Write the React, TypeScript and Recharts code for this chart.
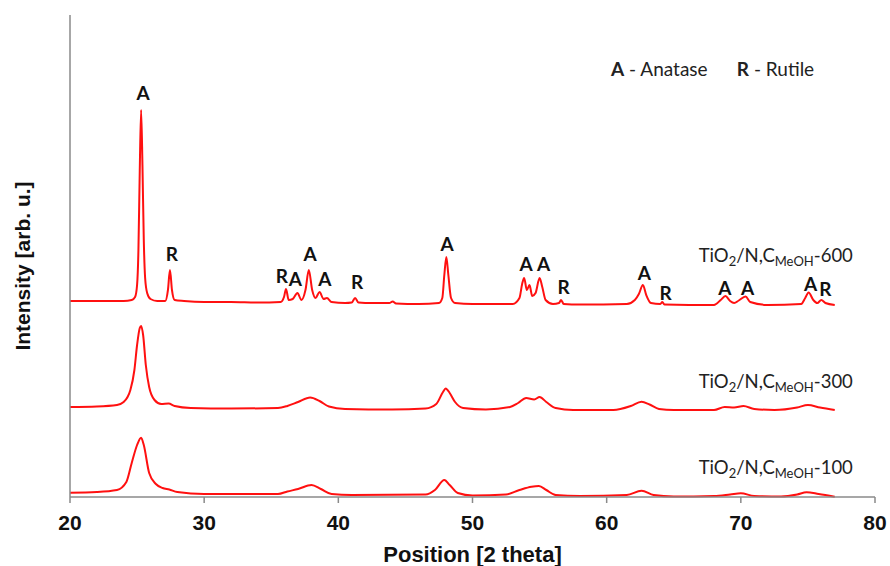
import { LineChart, Line, XAxis, YAxis, ReferenceDot } from 'recharts'

// 2 theta positions and intensities (arb. u.)
const theta600 = [20, 22, 24, 24.6, 24.85, 25, 25.1, 25.2, 25.3, 25.4, 25.5, 25.6, 25.75, 26, 26.5, 27.1, 27.3, 27.45, 27.6, 27.8, 28.5, 30, 32, 34, 35.7, 35.95, 36.1, 36.3, 36.6, 36.95, 37.25, 37.55, 37.8, 38.05, 38.3, 38.6, 38.9, 39.15, 39.5, 40.5, 41, 41.25, 41.5, 42.5, 43.8, 44.05, 44.3, 46, 47.5, 47.75, 47.9, 48.05, 48.2, 48.4, 48.7, 50, 53, 53.5, 53.7, 53.85, 54.05, 54.25, 54.45, 54.7, 55, 55.2, 55.45, 56, 56.45, 56.6, 56.8, 58, 61.5, 62.1, 62.4, 62.7, 62.95, 63.3, 64, 64.15, 64.3, 68, 68.5, 68.85, 69.2, 69.5, 69.85, 70.35, 70.7, 72, 74.5, 74.8, 75.05, 75.4, 75.7, 76, 76.3, 77]
const int600 = [196, 196, 196, 197, 200, 212, 247, 327, 387, 332, 257, 219, 204, 198, 196, 196, 207, 227, 207, 197, 196, 195, 195, 194.5, 195, 200, 208, 197, 198, 204, 197, 207, 227, 207, 199, 205, 198, 199, 195, 194, 194.5, 199, 194.5, 194, 194, 195.5, 193.5, 193, 194, 199, 222, 240, 222, 199, 194, 193, 193, 199, 213, 219, 207, 212, 201, 204, 219, 210, 197, 193, 194, 197, 193, 192.5, 193, 197, 203, 212, 202, 194, 193, 195, 192.5, 192, 197, 201, 196, 194, 196.5, 200.5, 195, 192, 193, 199, 204.5, 197, 194, 197, 194, 192]

const theta300 = [20, 22, 23.5, 24, 24.5, 24.8, 25, 25.2, 25.3, 25.45, 25.65, 25.9, 26.3, 26.8, 27.35, 27.8, 29, 32, 35.5, 36.2, 37, 37.9, 38.6, 39.3, 40.5, 44, 46.5, 47.3, 47.8, 48, 48.3, 48.7, 49.3, 51, 52.8, 53.4, 54, 54.6, 55, 55.5, 56.2, 57.5, 60.5, 61.8, 62.6, 63.2, 63.9, 65, 68, 68.8, 69.5, 70.2, 71, 72.5, 74.2, 75, 75.9, 77]
const int300 = [90, 90.5, 92, 95, 107, 127, 152, 169, 171, 162, 132, 110, 97, 93, 93.5, 91, 89, 88.5, 89, 91, 95, 99.5, 96, 90.5, 88, 87.5, 88.5, 93, 105, 108.5, 104, 95, 89, 87.5, 90, 94, 99, 97.5, 100, 95, 89, 87, 87, 91, 95.3, 92.5, 88, 87, 87, 90, 89.5, 91, 88, 87, 89.5, 92, 89.5, 87]

const theta100 = [20, 22, 23.5, 24.2, 24.6, 25, 25.3, 25.5, 25.9, 26.4, 26.9, 27.4, 28, 30, 35.5, 36.2, 37, 38, 38.7, 39.5, 41, 46.5, 47.2, 47.9, 48.3, 48.9, 50, 52.5, 53.5, 54.4, 54.95, 55.5, 56.2, 58, 61.5, 62.6, 63.5, 65, 68, 69.2, 70, 71, 73, 74.2, 74.9, 75.8, 77]
const int100 = [4.3, 5, 7, 15, 34, 52, 59.3, 52, 24, 13, 9, 7.5, 5, 3, 3, 5.5, 8, 12, 8, 3, 2, 2.5, 7, 17, 12, 4, 1.5, 2.5, 7, 10.3, 11, 7, 2, 1, 2, 6.3, 2, 0.5, 1, 2.5, 3.7, 1, 0.5, 2.5, 4.7, 3, 0.3]

// phase marks above the 600 trace
const peakTheta = [25.45, 27.6, 35.8, 36.8, 37.9, 39.0, 41.4, 48.1, 54.0, 55.3, 56.8, 62.8, 64.4, 68.8, 70.5, 75.2, 76.3]
const peakText = ['A', 'R', 'R', 'A', 'A', 'A', 'R', 'A', 'A', 'A', 'R', 'A', 'R', 'A', 'A', 'A', 'R']
const peakHeight = [405, 244, 222, 219, 244, 219, 216, 254, 234, 234, 211, 225, 205, 210, 210, 214, 209]

const sampleNames = ['600', '300', '100']
const sampleLabelHeight = [235, 109, 23]
const sampleLabelTheta = 78.35

const xTicks = [20, 30, 40, 50, 60, 70, 80]

const toPoints = (xs: number[], ys: number[]) => xs.map((t, i) => ({ theta: t, intensity: ys[i] }))

const data600 = toPoints(theta600, int600)
const data300 = toPoints(theta300, int300)
const data100 = toPoints(theta100, int100)

const RED = '#ff1010'
const AXIS = '#8a8a8a'
const labelFont = "Lato, 'Open Sans', sans-serif"
const axisFont = "'Liberation Sans', Arial, sans-serif"

export default function App() {
  return (
    <div style={{ position: 'absolute', left: 0, top: 0, width: 890, height: 566, background: '#fff' }}>
      <LineChart width={890} height={566} margin={{ top: 15, right: 15, left: 0, bottom: 0 }}>
        <XAxis
          dataKey="theta"
          type="number"
          domain={[20, 80]}
          ticks={xTicks}
          allowDataOverflow
          height={69}
          tickSize={6}
          tickMargin={12}
          axisLine={{ stroke: AXIS, strokeWidth: 1.5 }}
          tickLine={{ stroke: AXIS, strokeWidth: 1.5 }}
          tick={{ fontSize: 21, fontWeight: 700, fill: '#111', fontFamily: axisFont }}
          label={(p: any) => {
            const vb = p.viewBox
            return (
              <text x={vb.x + vb.width / 2} y={vb.y + 57} textAnchor="middle" dominantBaseline="central"
                fontSize={22} fontWeight={700} fill="#111" fontFamily={axisFont}>
                Position [2 theta]
              </text>
            )
          }}
        />
        <YAxis
          type="number"
          domain={[0, 482]}
          width={70}
          tick={false}
          tickLine={false}
          axisLine={{ stroke: AXIS, strokeWidth: 1.5 }}
          label={(p: any) => {
            const vb = p.viewBox
            const cy = vb.y + vb.height / 2 + 10
            return (
              <text x={22} y={cy} textAnchor="middle" dominantBaseline="central" transform={`rotate(-90 22 ${cy})`}
                fontSize={21} fontWeight={700} fill="#111" fontFamily={axisFont}>
                Intensity [arb. u.]
              </text>
            )
          }}
        />
        <Line data={data600} dataKey="intensity" type="monotone" stroke={RED} strokeWidth={2} dot={false} activeDot={false} isAnimationActive={false} />
        <Line data={data300} dataKey="intensity" type="monotone" stroke={RED} strokeWidth={2} dot={false} activeDot={false} isAnimationActive={false} />
        <Line data={data100} dataKey="intensity" type="monotone" stroke={RED} strokeWidth={2} dot={false} activeDot={false} isAnimationActive={false} />
        {peakTheta.map((t, i) => (
          <ReferenceDot
            key={'p' + i}
            x={t}
            y={peakHeight[i]}
            r={0}
            shape={(p: any) => (
              <text x={p.cx} y={p.cy} textAnchor="middle" dominantBaseline="central"
                fontSize={19} fontWeight={700} fill="#111" fontFamily={labelFont}>
                {peakText[i]}
              </text>
            )}
          />
        ))}
        {sampleNames.map((n, i) => (
          <ReferenceDot
            key={'s' + n}
            x={sampleLabelTheta}
            y={sampleLabelHeight[i]}
            r={0}
            shape={(p: any) => (
              <text x={p.cx} y={p.cy} textAnchor="end" fontSize={18.5} fill="#222" fontFamily={labelFont}>
                TiO<tspan dy={4} fontSize={13}>2</tspan>
                <tspan dy={-4}>/N,C</tspan>
                <tspan dy={4} fontSize={13}>MeOH</tspan>
                <tspan dy={-4}>-{n}</tspan>
              </text>
            )}
          />
        ))}
      </LineChart>
      <div style={{ position: 'absolute', left: 611, top: 57, fontFamily: labelFont, fontSize: 19, color: '#222', whiteSpace: 'pre' }}>
        <b>A</b> - Anatase      <b>R</b> - Rutile
      </div>
    </div>
  )
}
